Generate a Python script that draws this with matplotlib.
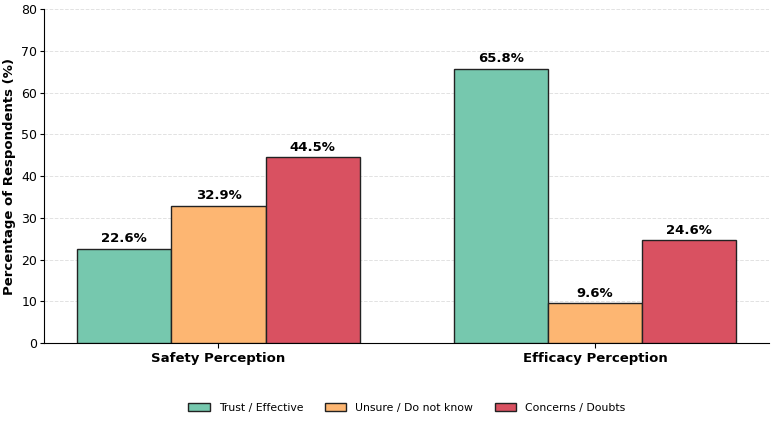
import numpy as np
import matplotlib.pyplot as plt

groups = ["Safety Perception", "Efficacy Perception"]
series = ["Trust / Effective", "Unsure / Do not know", "Concerns / Doubts"]
trust = [22.6, 65.8]
unsure = [32.9, 9.6]
concerns = [44.5, 24.6]
colors = ["#76c8ae", "#fdb672", "#d95161"]

fig, ax = plt.subplots(figsize=(7.77, 4.21), dpi=100)
x = np.arange(len(groups))
w = 0.25

for i, (vals, name) in enumerate(zip([trust, unsure, concerns], series)):
    bars = ax.bar(x + (i - 1) * w, vals, w, label=name, color=colors[i],
                  edgecolor="#222222", linewidth=1, zorder=3)
    for b, v in zip(bars, vals):
        ax.text(b.get_x() + b.get_width() / 2, v + 0.8, f"{v}%",
                ha="center", va="bottom", fontsize=9.5, fontweight="bold")

ax.set_ylim(0, 80)
ax.set_xticks(x)
ax.set_xticklabels(groups, fontsize=9.5, fontweight="bold")
ax.set_ylabel("Percentage of Respondents (%)", fontsize=9.5, fontweight="bold",
              labelpad=4)
ax.tick_params(axis="y", labelsize=9, pad=2, length=3)
ax.tick_params(axis="x", pad=3)
ax.yaxis.grid(True, linestyle="--", color="#e2e2e2", linewidth=0.7, zorder=0)
ax.spines["top"].set_visible(False)
ax.spines["right"].set_visible(False)
ax.legend(loc="upper center", bbox_to_anchor=(0.5, -0.15), ncol=3,
          frameon=False, fontsize=7.8, columnspacing=2.0)

fig.subplots_adjust(left=0.057, right=0.99, top=0.978, bottom=0.185)
fig.savefig("out.png")
